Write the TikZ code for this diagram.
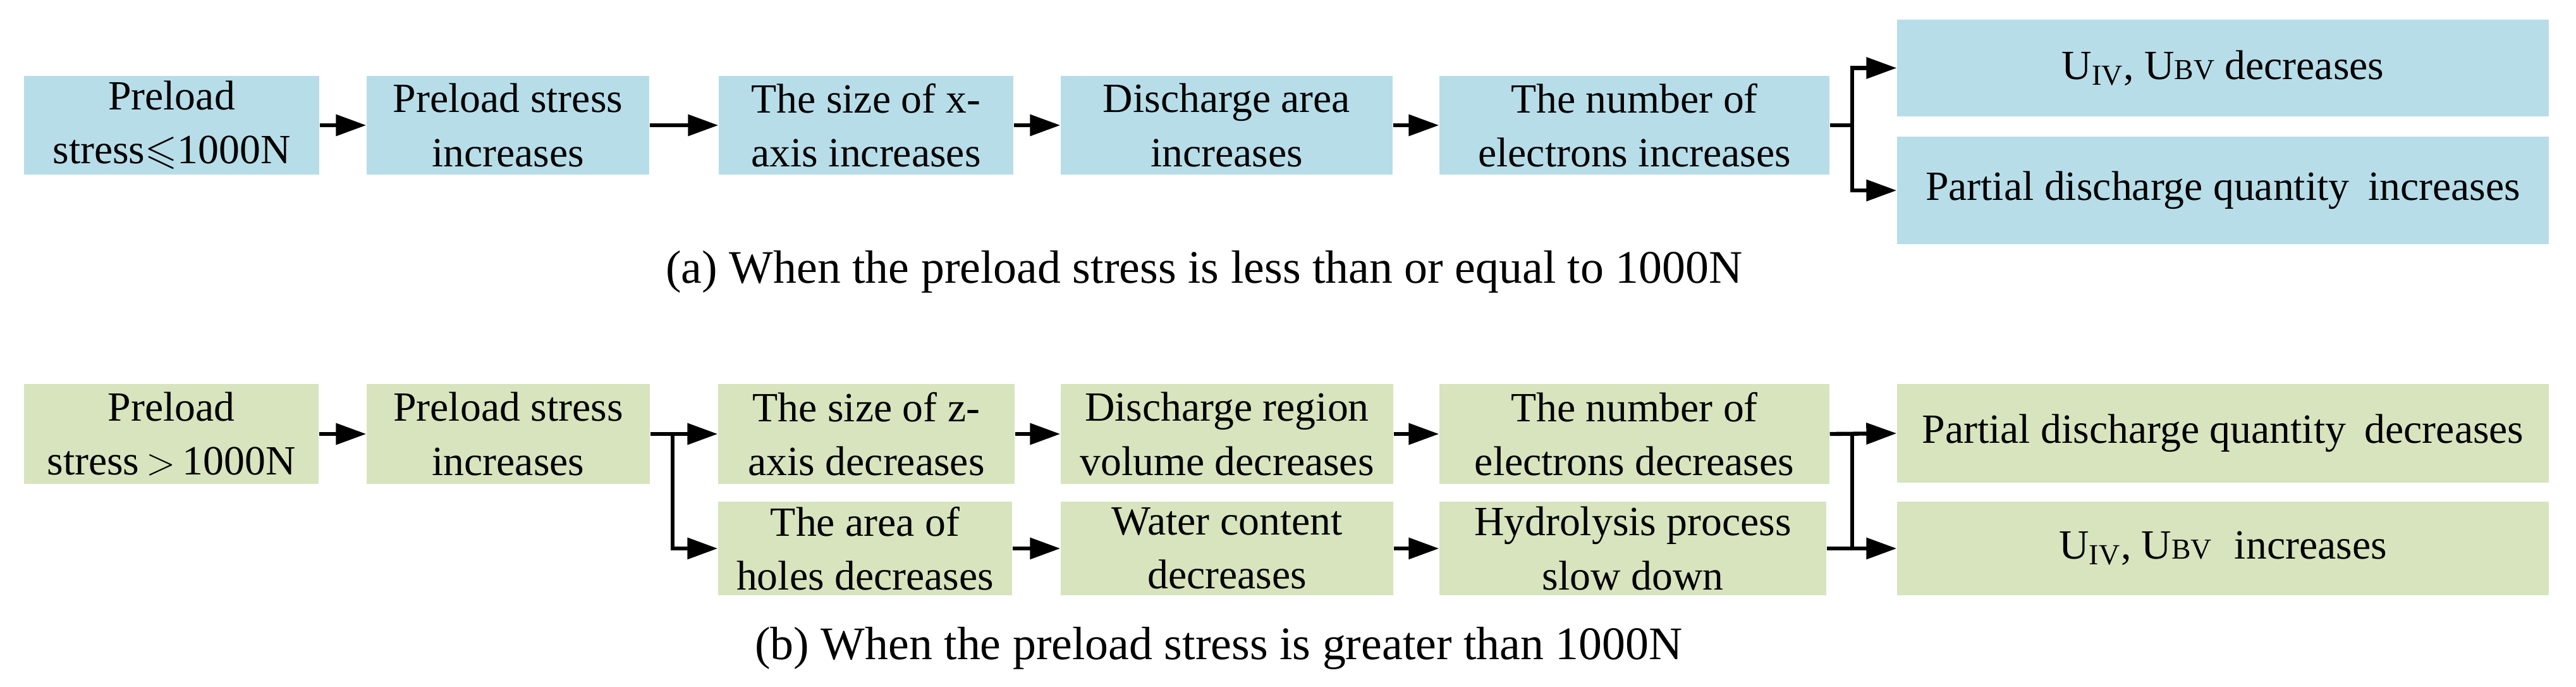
\documentclass[tikz,border=0pt]{standalone}
\usepackage{amssymb}
\usepackage{fontspec}
\setmainfont{Liberation Serif}
\usetikzlibrary{arrows.meta}
\definecolor{boxblue}{HTML}{B7DDE8}
\definecolor{boxgreen}{HTML}{D7E4BD}
\tikzset{
  bx/.style={inner sep=0pt, align=center, font=\fontsize{18.7}{24.2}\selectfont},
  bbox/.style={bx, fill=boxblue},
  gbox/.style={bx, fill=boxgreen},
  arr/.style={-{Triangle[length=0.48cm,width=0.33cm]}, line width=1.8pt},
  link/.style={line width=1.8pt},
  captext/.style={inner sep=0pt, anchor=base, font=\fontsize{21}{25}\selectfont}
}
\newcommand{\smallbv}{{\fontsize{13}{13}\selectfont BV}}
\begin{document}
\begin{tikzpicture}
\useasboundingbox (0,0) rectangle (40.75,-10.85);
% row (a)
\node[bbox, minimum width=4.67cm, minimum height=1.56cm] (a1) at (2.715,-1.98) {Preload\\stress$\leqslant$1000N};
\node[bbox, minimum width=4.47cm, minimum height=1.56cm] (a2) at (8.035,-1.98) {Preload stress\\increases};
\node[bbox, minimum width=4.66cm, minimum height=1.56cm] (a3) at (13.70,-1.98) {The size of x-\\axis increases};
\node[bbox, minimum width=5.25cm, minimum height=1.56cm] (a4) at (19.405,-1.98) {Discharge area\\increases};
\node[bbox, minimum width=6.17cm, minimum height=1.56cm] (a5) at (25.855,-1.98) {The number of\\electrons increases};
\node[bbox, minimum width=10.31cm, minimum height=1.53cm] (a6) at (35.165,-1.075) {U\textsubscript{IV}, U\smallbv{} decreases};
\node[bbox, minimum width=10.31cm, minimum height=1.70cm] (a7) at (35.165,-3.01) {Partial discharge quantity\hspace{0.2em} increases};
\draw[arr] (a1.east) -- (a2.west);
\draw[arr] (a2.east) -- (a3.west);
\draw[arr] (a3.east) -- (a4.west);
\draw[arr] (a4.east) -- (a5.west);
\coordinate (ja) at (29.30,-1.98);
\draw[link] (a5.east) -- (ja);
\draw[arr] (ja) |- (a6.west);
\draw[arr] (ja) |- (a7.west);
\node[captext] (capa) at (19.05,-4.47) {(a) When the preload stress is less than or equal to 1000N};
% row (b)
\node[gbox, minimum width=4.66cm, minimum height=1.58cm] (b1) at (2.71,-6.86) {Preload\\stress\,$>$\,1000N};
\node[gbox, minimum width=4.48cm, minimum height=1.58cm] (b2) at (8.04,-6.86) {Preload stress\\increases};
\node[gbox, minimum width=4.69cm, minimum height=1.58cm] (b3) at (13.705,-6.86) {The size of z-\\axis decreases};
\node[gbox, minimum width=5.26cm, minimum height=1.58cm] (b4) at (19.41,-6.86) {Discharge region\\volume decreases};
\node[gbox, minimum width=6.17cm, minimum height=1.58cm] (b5) at (25.855,-6.86) {The number of\\electrons decreases};
\node[gbox, minimum width=10.31cm, minimum height=1.56cm] (b6) at (35.165,-6.85) {Partial discharge quantity\hspace{0.2em} decreases};
\node[gbox, minimum width=4.65cm, minimum height=1.48cm] (c3) at (13.685,-8.67) {The area of\\holes decreases};
\node[gbox, minimum width=5.26cm, minimum height=1.48cm] (c4) at (19.41,-8.67) {Water content\\decreases};
\node[gbox, minimum width=6.12cm, minimum height=1.48cm] (c5) at (25.83,-8.67) {Hydrolysis process\\slow down};
\node[gbox, minimum width=10.31cm, minimum height=1.48cm] (c6) at (35.165,-8.67) {U\textsubscript{IV}, U\smallbv\hspace{0.3em} increases};
\draw[arr] (b1.east) -- (b2.west);
\draw[arr] (b2.east) -- (b3.west);
\coordinate (jb) at (10.64,-6.86);
\draw[arr] (jb) |- (c3.west);
\draw[arr] (b3.east) -- (b4.west);
\draw[arr] (b4.east) -- (b5.west);
\draw[arr] (c3.east) -- (c4.west);
\draw[arr] (c4.east) -- (c5.west);
\draw[arr] (b5.east) -- (b6.west);
\draw[arr] (c5.east) -- (c6.west);
\coordinate (jc) at (29.30,0);
\draw[link] (b5.east -| jc) -- (c5.east -| jc);
\node[captext] (capb) at (19.28,-10.42) {(b) When the preload stress is greater than 1000N};
\end{tikzpicture}
\end{document}
